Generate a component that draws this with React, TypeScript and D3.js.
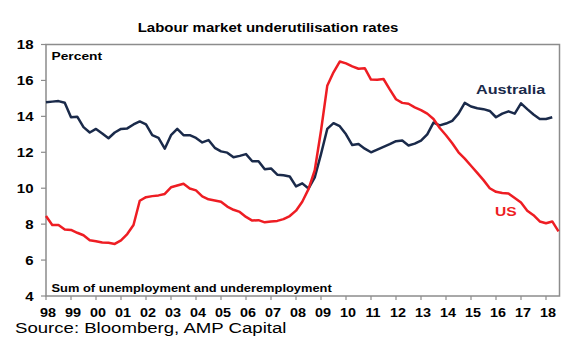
import * as d3 from "d3";

// quarterly readings, first point is Q1 1998
const startYear = 1998;

const australia = [
  14.78, 14.82, 14.85, 14.76, 13.95, 13.98, 13.4, 13.1,
  13.3, 13.05, 12.78, 13.1, 13.3, 13.33, 13.55, 13.72,
  13.55, 12.95, 12.8, 12.2, 12.95, 13.3, 12.95, 12.95,
  12.8, 12.55, 12.68, 12.25, 12.05, 11.98, 11.72, 11.8,
  11.9, 11.5, 11.5, 11.05, 11.1, 10.75, 10.72, 10.65,
  10.1, 10.27, 9.98, 10.6, 11.9, 13.3, 13.62, 13.45,
  13.0, 12.4, 12.46, 12.2, 12.0, 12.15, 12.3, 12.45,
  12.62, 12.65, 12.38, 12.48, 12.65, 13.0, 13.65, 13.5,
  13.6, 13.75, 14.15, 14.75, 14.55, 14.45, 14.4, 14.3,
  13.95, 14.15, 14.28, 14.15, 14.72, 14.4, 14.1, 13.85,
  13.85, 13.95,
];

const us = [
  8.45, 7.95, 7.95, 7.7, 7.68, 7.52, 7.38, 7.1,
  7.05, 6.98, 6.96, 6.9, 7.1, 7.45, 7.95, 9.3,
  9.5, 9.56, 9.6, 9.68, 10.05, 10.15, 10.25, 9.98,
  9.88, 9.55, 9.38, 9.32, 9.25, 8.98, 8.8, 8.68,
  8.4, 8.2, 8.22, 8.1, 8.15, 8.18, 8.28, 8.45,
  8.75, 9.25, 9.95, 11.0, 13.2, 15.7, 16.45, 17.05,
  16.95, 16.78, 16.65, 16.68, 16.05, 16.04, 16.08, 15.5,
  14.95, 14.75, 14.7, 14.5, 14.35, 14.15, 13.85, 13.35,
  12.95, 12.5, 12.0, 11.65, 11.25, 10.85, 10.45, 10.0,
  9.8, 9.73, 9.7, 9.45, 9.2, 8.75, 8.5, 8.15,
  8.05, 8.15, 7.6,
];

const yTicks = [4, 6, 8, 10, 12, 14, 16, 18];
const xTickYears = d3.range(1998, 2019);
const xTickLabels = ["98", "99", "00", "01", "02", "03", "04", "05", "06", "07",
  "08", "09", "10", "11", "12", "13", "14", "15", "16", "17", "18"];

const width = 580;
const height = 352;
const plot = { left: 46, right: 559.5, top: 44.5, bottom: 296 };

const font = "'Liberation Sans', Arial, sans-serif";
const navy = "#1a2a4a";
const red = "#ee1d23";
const frameGrey = "#8c8c8c";
const stretch = 1.2; // the source picture is a bit wide, text is stretched

const xScale = d3
  .scaleLinear()
  .domain([startYear, startYear + (plot.right - plot.left) / 25])
  .range([plot.left, plot.right]);

const yScale = d3
  .scaleLinear()
  .domain([4, 18])
  .range([plot.bottom, plot.top]);

const line = d3
  .line<number>()
  .x((_, i) => xScale(startYear + i / 4))
  .y((d) => yScale(d))
  .curve(d3.curveLinear);

const Label = ({ x, y, size, bold, anchor = "start", fill = "#000", children, sx = stretch }: any) => (
  <text
    transform={`translate(${x},${y}) scale(${sx},1)`}
    fontFamily={font}
    fontSize={size}
    fontWeight={bold ? "bold" : "normal"}
    textAnchor={anchor}
    fill={fill}
  >
    {children}
  </text>
);

export default function App() {
  return (
    <svg width={width} height={height} viewBox={`0 0 ${width} ${height}`}
      style={{ position: "absolute", left: 0, top: 0, background: "#fff" }}>
      <rect width={width} height={height} fill="#fff" />

      <Label x={268} y={31.5} size={12.5} bold anchor="middle">
        Labour market underutilisation rates
      </Label>

      {/* frame */}
      <rect x={plot.left} y={plot.top} width={plot.right - plot.left} height={plot.bottom - plot.top}
        fill="none" stroke={frameGrey} strokeWidth={1.5} />

      {/* y axis */}
      <g className="y-axis">
        {yTicks.map((t) => (
          <g key={t}>
            <line x1={plot.left - 5} x2={plot.left} y1={yScale(t)} y2={yScale(t)} stroke={frameGrey} strokeWidth={1.2} />
            <Label x={33.5} y={yScale(t) + 4.5} size={12.5} bold anchor="end">{t}</Label>
          </g>
        ))}
      </g>

      {/* x axis */}
      <g className="x-axis">
        {xTickYears.map((yr, i) => (
          <g key={yr}>
            <line x1={xScale(yr)} x2={xScale(yr)} y1={plot.bottom} y2={plot.bottom + 4} stroke={frameGrey} strokeWidth={1.2} />
            <Label x={xScale(yr) + 2} y={316.5} size={12} bold anchor="middle">{xTickLabels[i]}</Label>
          </g>
        ))}
      </g>

      <Label x={51.5} y={60} size={11.5} bold>Percent</Label>
      <Label x={51.5} y={292} size={11} bold sx={1.17}>Sum of unemployment and underemployment</Label>

      <path d={line(australia) ?? ""} fill="none" stroke={navy} strokeWidth={2.5} strokeLinejoin="round" />
      <path d={line(us) ?? ""} fill="none" stroke={red} strokeWidth={2.5} strokeLinejoin="round" />

      <Label x={476} y={93.5} size={13.5} bold fill={navy}>Australia</Label>
      <Label x={495} y={216} size={13} bold fill={red}>US</Label>

      <Label x={15} y={333.3} size={15.5}>Source: Bloomberg, AMP Capital</Label>
    </svg>
  );
}
